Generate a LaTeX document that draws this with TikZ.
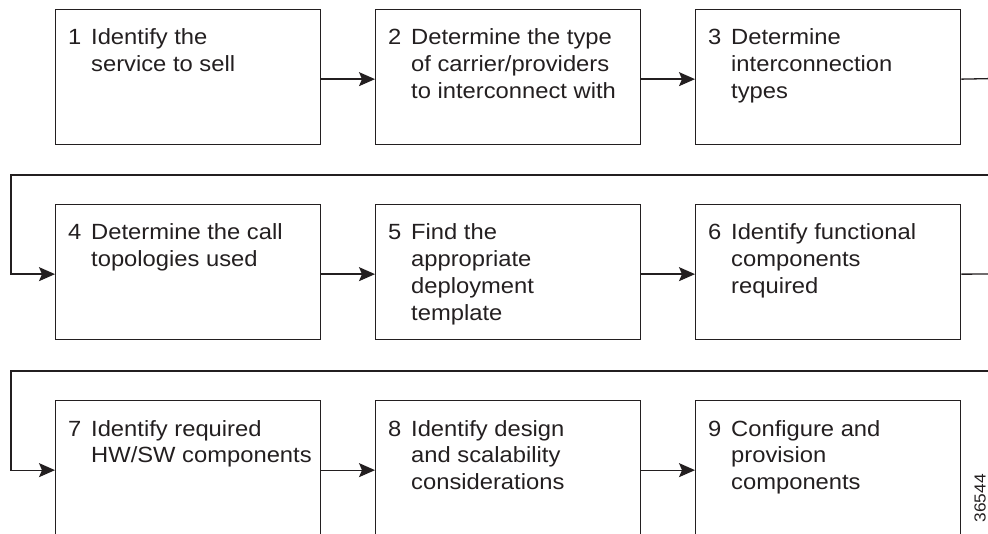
\documentclass[tikz,border=0pt]{standalone}
\usepackage{fontspec}
\setmainfont{Liberation Sans}[FakeStretch=1.08]
\usetikzlibrary{arrows.meta}

\definecolor{ink}{HTML}{231F20}

% number in a fixed column, then the step text as a left-aligned stack
\newcommand\stepitem[2]{\makebox[23pt][l]{#1}\begin{tabular}[t]{@{}l@{}}#2\end{tabular}}

\begin{document}
\begin{tikzpicture}[x=1pt,y=-1pt,
  stepbox/.style={draw=ink, line width=1.3pt, minimum width=265pt,
    minimum height=135pt, inner sep=0pt, anchor=north west},
  steptext/.style={anchor=base west, inner sep=0pt, text=ink,
    font=\fontsize{22}{26.7}\selectfont},
  link/.style={draw=ink, line width=1.3pt},
  flow/.style={link, -{Stealth[length=16pt,width=14pt,inset=3pt]}}]

\useasboundingbox (0,0) rectangle (988,534);
\clip (0,0) rectangle (988,534);

% boxes, three rows of three
\node[stepbox] (b1) at (55,9) {};
\node[stepbox] (b2) at (375,9) {};
\node[stepbox] (b3) at (695,9) {};
\node[stepbox] (b4) at (55,204) {};
\node[stepbox] (b5) at (375,204) {};
\node[stepbox] (b6) at (695,204) {};
\node[stepbox] (b7) at (55,400) {};
\node[stepbox] (b8) at (375,400) {};
\node[stepbox] (b9) at (695,400) {};

% step texts
\node[steptext] (t1) at ([xshift=13pt,yshift=-36pt]b1.north west) {\stepitem{1}{Identify the\\service to sell}};
\node[steptext] (t2) at ([xshift=13pt,yshift=-36pt]b2.north west) {\stepitem{2}{Determine the type\\of carrier/providers\\to interconnect with}};
\node[steptext] (t3) at ([xshift=13pt,yshift=-36pt]b3.north west) {\stepitem{3}{Determine\\interconnection\\types}};
\node[steptext] (t4) at ([xshift=13pt,yshift=-36pt]b4.north west) {\stepitem{4}{Determine the call\\topologies used}};
\node[steptext] (t5) at ([xshift=13pt,yshift=-36pt]b5.north west) {\stepitem{5}{Find the\\appropriate\\deployment\\template}};
\node[steptext] (t6) at ([xshift=13pt,yshift=-36pt]b6.north west) {\stepitem{6}{Identify functional\\components\\required}};
\node[steptext] (t7) at ([xshift=13pt,yshift=-36pt]b7.north west) {\stepitem{7}{Identify required\\HW/SW components}};
\node[steptext] (t8) at ([xshift=13pt,yshift=-36pt]b8.north west) {\stepitem{8}{Identify design\\and scalability\\considerations}};
\node[steptext] (t9) at ([xshift=13pt,yshift=-36pt]b9.north west) {\stepitem{9}{Configure and\\provision\\components}};

% arrows within rows
\draw[flow] ([yshift=-2pt]b1.east) -- ([yshift=-2pt]b2.west);
\draw[flow] ([yshift=-2pt]b2.east) -- ([yshift=-2pt]b3.west);
\draw[flow] ([yshift=-2pt]b4.east) -- ([yshift=-2pt]b5.west);
\draw[flow] ([yshift=-2pt]b5.east) -- ([yshift=-2pt]b6.west);
\draw[flow] ([yshift=-2pt]b7.east) -- ([yshift=-2pt]b8.west);
\draw[flow] ([yshift=-2pt]b8.east) -- ([yshift=-2pt]b9.west);

% wrap-around from one row to the next
\coordinate (e3) at (995,78.5);
\coordinate (r2) at (995,175);
\coordinate (l2) at (11,175);
\draw[link] ([yshift=-2pt]b3.east) -- (e3);
\draw[flow] (r2) -- (l2) |- ([yshift=-2pt]b4.west);

\coordinate (e6) at (995,274);
\coordinate (r3) at (995,371);
\coordinate (l3) at (11,371);
\draw[link] ([yshift=-2pt]b6.east) -- (e6);
\draw[flow] (r3) -- (l3) |- ([yshift=-2pt]b7.west);

% figure number
\node[rotate=90, anchor=base east, inner sep=0pt, text=ink,
  font=\fontsize{16}{16}\selectfont] (fignum) at (985.5,474) {36544};

\end{tikzpicture}
\end{document}
